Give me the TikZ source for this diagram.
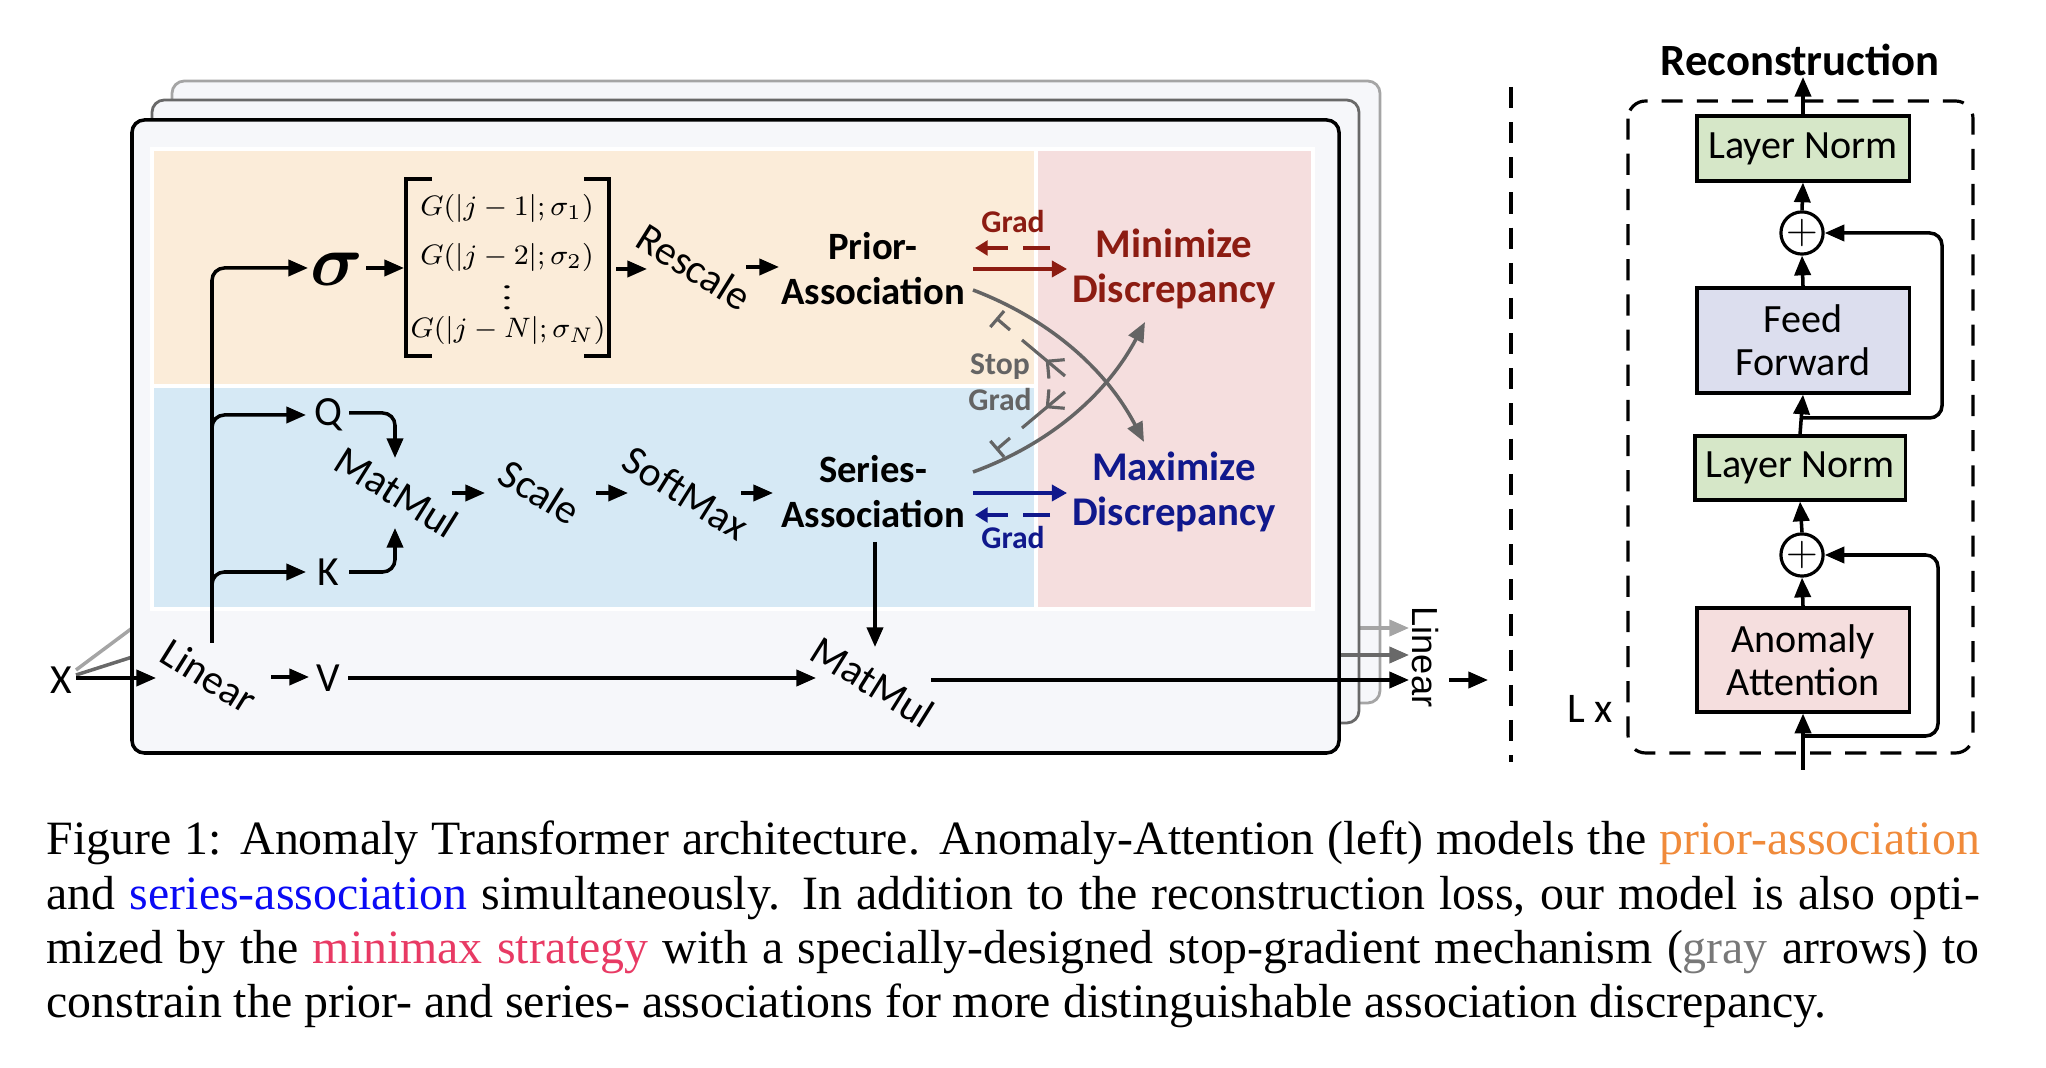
\documentclass[tikz,border=0pt]{standalone}
\usepackage{amsmath}
\usepackage{graphicx}
\usepackage{fontspec}
\setmainfont{Liberation Serif}
\newfontfamily\cbr{Carlito}
\newfontfamily\hel{Liberation Sans}
\usetikzlibrary{arrows.meta,decorations.markings}
\definecolor{bgframe}{RGB}{246,247,250}
\definecolor{bgorange}{RGB}{251,236,217}
\definecolor{bgblue}{RGB}{214,233,245}
\definecolor{bgpink}{RGB}{245,222,222}
\definecolor{minred}{RGB}{140,28,18}
\definecolor{maxblue}{RGB}{16,24,140}
\definecolor{sgray}{RGB}{100,100,100}
\definecolor{flight}{RGB}{165,165,165}
\definecolor{fdark}{RGB}{105,105,105}
\definecolor{boxgreen}{RGB}{214,231,200}
\definecolor{boxlav}{RGB}{220,222,238}
\definecolor{boxpink}{RGB}{245,222,222}
\definecolor{capO}{RGB}{240,138,58}
\definecolor{capB}{RGB}{10,10,245}
\definecolor{capP}{RGB}{232,58,100}
\definecolor{capG}{RGB}{120,120,120}
\begin{document}
\begin{tikzpicture}[x=0.01cm,y=-0.01cm,
  ln/.style={line width=1pt},
  ar/.style={line width=1pt,-{Triangle[length=5.6pt,width=4.6pt]}},
  lab/.style={font=\cbr\fontsize{11.8}{13}\selectfont,inner sep=0pt},
  rl/.style={lab,rotate=-32},
  bl/.style={font=\cbr\bfseries\fontsize{11}{12.8}\selectfont,align=center,inner sep=0pt},
  mx/.style={font=\cbr\bfseries\fontsize{11.6}{12.8}\selectfont,align=center,inner sep=0pt},
  gl/.style={font=\cbr\bfseries\fontsize{9}{10}\selectfont,inner sep=0pt},
  gra/.style={line width=0.9pt,-{Triangle[length=4.3pt,width=4.6pt]}},
  grd/.style={line width=0.9pt,dash pattern=on 7.7pt off 4.3pt,-{Triangle[length=3.6pt,width=4.2pt]}},
  gc/.style={line width=1pt,draw=sgray,-{Triangle[length=5.6pt,width=4.6pt]}},
  sgl/.style={line width=0.9pt,draw=sgray},
  dsh/.style={line width=0.9pt,dash pattern=on 6pt off 4pt},
  bx/.style={draw,line width=0.9pt,minimum width=2.12cm,font=\cbr\fontsize{11.4}{12.2}\selectfont,align=center,inner sep=0pt},
  pl/.style={draw,circle,line width=0.9pt,minimum size=0.42cm,inner sep=0pt,font=\fontsize{12}{12}\selectfont},
  mrow/.style={font=\fontsize{8.2}{10}\selectfont,inner sep=0pt,anchor=base}
]
\useasboundingbox (0,0) rectangle (2046,1068);

% ---------- stacked frames ----------
\coordinate (xo) at (76,678);
\coordinate (xg1) at (190,585);
\coordinate (xg2) at (170,645);
\draw[draw=flight,line width=0.8pt,fill=bgframe,rounded corners=3.5pt] (172,81) rectangle (1380,703);
\draw[line width=1pt,draw=flight] (76,670) -- (xg1);
\coordinate (lg-s) at (1300,628);
\coordinate (lg-e) at (1409,628);
\draw[line width=1pt,draw=flight,-{Triangle[length=5.6pt,width=4.6pt]}] (lg-s) -- (lg-e);
\draw[draw=fdark,line width=0.8pt,fill=bgframe,rounded corners=3.5pt] (152,100) rectangle (1359,723);
\draw[line width=1pt,draw=fdark] (76,675) -- (xg2);
\coordinate (dg-s) at (1300,655);
\coordinate (dg-e) at (1409,655);
\draw[line width=1pt,draw=fdark,-{Triangle[length=5.6pt,width=4.6pt]}] (dg-s) -- (dg-e);
\draw[line width=1pt,fill=bgframe,rounded corners=3.5pt] (132,120) rectangle (1339,753);

% ---------- panels ----------
\draw[draw=white,line width=1.2pt,fill=bgorange] (152,149) rectangle (1036,386);
\draw[draw=white,line width=1.2pt,fill=bgblue] (152,386) rectangle (1036,609);
\draw[draw=white,line width=1.2pt,fill=bgpink] (1036,149) rectangle (1313,609);

% ---------- nodes ----------
\node[lab] (X) at (61,680) {X};
\node[rl] (linL) at (209,676) {Linear};
\node[lab] (V) at (328,678) {V};
\node[rl] (mm2) at (873,682) {MatMul};
\node[lab] (Q) at (328,415) {Q};
\node[lab] (K) at (328,572) {K};
\node[rl] (mm1) at (397,492) {MatMul};
\node[rl] (scale) at (540,492) {Scale};
\node[rl] (soft) at (686,493) {SoftMax};
\node[bl] (ser) at (873,492) {Series-\\Association};
\node[bl] (pri) at (873,269) {Prior-\\Association};
\node[inner sep=0pt,font=\fontsize{20}{21}\selectfont] (sig) at (337,269) {$\boldsymbol{\sigma}$};
\node[rl] (resc) at (694,267) {Rescale};
\node[mx,text=minred] (mini) at (1174,269) {Minimize\\Discrepancy};
\node[mx,text=maxblue] (maxi) at (1174,492) {Maximize\\Discrepancy};
\node[inner sep=0pt,font=\hel\fontsize{10.3}{11}\selectfont,rotate=-90] (linR) at (1425,657) {Linear};

% matrix of Gaussians
\node[minimum width=2.04cm,minimum height=1.77cm,inner sep=0pt] (mat) at (507,267.5) {};
\node[mrow] (g1) at (507,216) {$G(|j-1|;\sigma_1)$};
\node[mrow] (g2) at (507,265) {$G(|j-2|;\sigma_2)$};
\node[inner sep=0pt,anchor=south,font=\fontsize{10}{10}\selectfont] (gd) at (507,311) {\scalebox{1.3}[0.75]{$\vdots$}};
\node[mrow] (g3) at (508,338) {$G(|j-N|;\sigma_N)$};
\draw[line width=1pt] (432,179) -- (406,179) -- (406,356) -- (432,356);
\draw[line width=1pt] (584,179) -- (609,179) -- (609,356) -- (584,356);

% ---------- connectors (left block) ----------
\coordinate (lin-in) at (156,678);
\coordinate (lin-up) at (212,643);
\coordinate (sig-in) at (308,268);
\coordinate (qbr) at (212,445);
\coordinate (q-in) at (306,415);
\coordinate (kbr) at (212,605);
\coordinate (k-in) at (306,572);
\coordinate (lin-out) at (271,677);
\coordinate (v-in) at (309,677);
\coordinate (v-out) at (348,678);
\coordinate (mm2-in) at (816,678);
\coordinate (mm2-out) at (931,680);
\coordinate (linR-in) at (1409,680);
\coordinate (linR-out) at (1449,680);
\coordinate (out-end) at (1488,680);
\draw[ar] (xo) -- (lin-in);
\draw[ar,rounded corners=3.5pt] (lin-up) |- (sig-in);
\draw[ar,rounded corners=3.5pt] (qbr) |- (q-in);
\draw[ar,rounded corners=3.5pt] (kbr) |- (k-in);
\draw[ar] (lin-out) -- (v-in);
\draw[ar] (v-out) -- (mm2-in);
\draw[ar] (mm2-out) -- (linR-in);
\draw[ar] (linR-out) -- (out-end);

\coordinate (q-out) at (349,413);
\coordinate (mm1-top) at (395,458);
\coordinate (k-out) at (349,572);
\coordinate (mm1-bot) at (395,528);
\draw[ar,rounded corners=3.5pt] (q-out) -| (mm1-top);
\draw[ar,rounded corners=3.5pt] (k-out) -| (mm1-bot);
\coordinate (mm1-out) at (452,493);
\coordinate (sc-in) at (485,493);
\coordinate (sc-out) at (596,493);
\coordinate (sm-in) at (628,493);
\coordinate (sm-out) at (741,493);
\coordinate (ser-in) at (773,493);
\draw[ar] (mm1-out) -- (sc-in);
\draw[ar] (sc-out) -- (sm-in);
\draw[ar] (sm-out) -- (ser-in);
\coordinate (ser-down) at (875,542);
\coordinate (mm2-top) at (875,647);
\draw[ar] (ser-down) -- (mm2-top);

\coordinate (sig-out) at (366,268);
\coordinate (mat-in) at (404,268);
\coordinate (mat-out) at (616,269);
\coordinate (rs-in) at (647,269);
\coordinate (rs-out) at (746,267);
\coordinate (pri-in) at (779,267);
\draw[ar] (sig-out) -- (mat-in);
\draw[ar] (mat-out) -- (rs-in);
\draw[ar] (rs-out) -- (pri-in);

% ---------- grad arrows ----------
\coordinate (pr-r) at (973,269);
\coordinate (mi-l) at (1067,269);
\coordinate (mi-d) at (1050,248);
\coordinate (pr-d) at (975,248);
\draw[gra,draw=minred] (pr-r) -- (mi-l);
\draw[grd,draw=minred] (mi-d) -- (pr-d);
\node[gl,text=minred] (gradR) at (1013,222) {Grad};
\coordinate (se-r) at (973,493);
\coordinate (ma-l) at (1067,493);
\coordinate (ma-d) at (1050,515);
\coordinate (se-d) at (975,515);
\draw[gra,draw=maxblue] (se-r) -- (ma-l);
\draw[grd,draw=maxblue] (ma-d) -- (se-d);
\node[gl,text=maxblue] (gradB) at (1013,538) {Grad};

% ---------- gray cross curves ----------
\coordinate (pri-out) at (973,290);
\coordinate (maxi-in) at (1144,442);
\coordinate (ser-out) at (973,472);
\coordinate (mini-in) at (1145,322);
\draw[gc] (pri-out) .. controls (1049,319) and (1106,369) .. (maxi-in);
\draw[gc] (ser-out) .. controls (1050,444) and (1107,394) .. (mini-in);

% stop-gradient
\coordinate (sg1a) at (1065,376);
\coordinate (sg1b) at (1022,340);
\coordinate (sg1c) at (1010,330);
\coordinate (sg1d) at (996,318);
\coordinate (sg2a) at (1065,392);
\coordinate (sg2b) at (1022,428);
\coordinate (sg2c) at (1010,438);
\coordinate (sg2d) at (996,450);
\draw[sgl,postaction={decorate},decoration={markings,mark=at position 0.45 with {\arrow[sgray,line width=0.9pt]{Straight Barb[length=3.5pt,width=7pt]}}}] (sg1a) -- (sg1b);
\draw[sgl,-{Bar[width=6pt]}] (sg1c) -- (sg1d);
\draw[sgl,postaction={decorate},decoration={markings,mark=at position 0.45 with {\arrow[sgray,line width=0.9pt]{Straight Barb[length=3.5pt,width=7pt]}}}] (sg2a) -- (sg2b);
\draw[sgl,-{Bar[width=6pt]}] (sg2c) -- (sg2d);
\node[gl,text=sgray] (stop) at (1000,367) {Stop};
\node[gl,text=sgray] (gradG) at (1000,400) {Grad};

% ---------- right: encoder layer ----------
\draw[dsh] (1511,87) -- (1511,762);
\draw[dsh,rounded corners=5pt] (1628,101) rectangle (1973,753);
\node[font=\cbr\bfseries\fontsize{12.7}{14}\selectfont,inner sep=0pt] (rec) at (1800,60) {Reconstruction};
\node[bx,fill=boxgreen,minimum height=0.65cm] (ln2) at (1803,148.5) {Layer Norm};
\node[pl] (p2) at (1802,233) {$+$};
\node[bx,fill=boxlav,minimum height=1.05cm] (ff) at (1803,340.5) {Feed\\Forward};
\node[bx,fill=boxgreen,minimum height=0.64cm,minimum width=2.10cm] (ln1) at (1800,468) {Layer Norm};
\node[pl] (p1) at (1802,555) {$+$};
\node[bx,fill=boxpink,minimum height=1.04cm] (aa) at (1803,660) {Anomaly\\Attention};
\node[lab,font=\cbr\fontsize{12}{13}\selectfont] (lx) at (1590,709) {L x};

\coordinate (inp) at (1803,770);
\coordinate (r1) at (1803,736);
\coordinate (r2) at (1803,418);
\coordinate (rec-in) at (1803,77);
\draw[ar] (inp) -- (aa.south);
\draw[ar] (aa.north) -- (p1.south);
\draw[ar] (p1.north) -- (ln1.south);
\draw[ar] (ln1.north) -- (ff.south);
\draw[ar] (ff.north) -- (p2.south);
\draw[ar] (p2.north) -- (ln2.south);
\draw[ar] (ln2.north) -- (rec-in);
\draw[ar,rounded corners=3.5pt] (r1) -- (1938,736) |- (p1.east);
\draw[ar,rounded corners=3.5pt] (r2) -- (1942,418) |- (p2.east);

% ---------- caption ----------
\node[anchor=base west,inner sep=0pt,text width=19.32cm,align=justify,
      font=\fontsize{13.6}{15.4}\selectfont] (cap) at (46,855)
{\hyphenpenalty=10000\tolerance=9999 Figure 1: Anomaly Transformer architecture. Anomaly-Attention (left) models the \textcolor{capO}{prior-association}\linebreak
and \textcolor{capB}{series-association} simultaneously. In addition to the reconstruction loss, our model is also opti-\linebreak
mized by the \textcolor{capP}{minimax strategy} with a specially-designed stop-gradient mechanism (\textcolor{capG}{gray} arrows) to\linebreak
constrain the prior- and series- associations for more distinguishable association discrepancy.};
\end{tikzpicture}
\end{document}
